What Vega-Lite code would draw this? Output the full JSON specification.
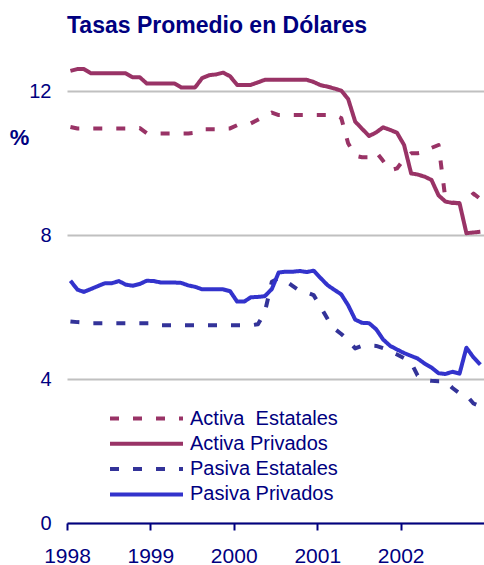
{
  "$schema": "https://vega.github.io/schema/vega-lite/v6.json",
  "width": 417,
  "height": 468,
  "autosize": {"type": "none"},
  "padding": {"left": 67, "top": 55, "right": 0, "bottom": 42},
  "background": "white",
  "config": {
    "view": {"stroke": null},
    "font": "Liberation Sans",
    "legend": {
      "orient": "none",
      "legendX": 41,
      "legendY": 352,
      "padding": 0,
      "symbolType": "stroke",
      "symbolSize": 5329,
      "symbolStrokeWidth": 4,
      "clipHeight": 23,
      "rowPadding": 2.3,
      "labelOffset": 5,
      "labelFont": "Liberation Sans",
      "labelFontSize": 20,
      "labelColor": "#000080",
      "labelLimit": 400
    }
  },
  "title": {
    "text": "Tasas Promedio en Dólares",
    "anchor": "start",
    "frame": "group",
    "font": "Liberation Sans",
    "fontSize": 23,
    "fontWeight": "bold",
    "color": "#000080",
    "baseline": "alphabetic",
    "offset": -1
  },
  "data": {
    "values": [
      {"fecha": "1998-01-16", "serie": "Activa\u00a0 Estatales", "tasa": 11.0},
      {"fecha": "1998-02-16", "serie": "Activa\u00a0 Estatales", "tasa": 10.96},
      {"fecha": "1998-03-16", "serie": "Activa\u00a0 Estatales", "tasa": 10.96},
      {"fecha": "1998-04-16", "serie": "Activa\u00a0 Estatales", "tasa": 10.96},
      {"fecha": "1998-05-16", "serie": "Activa\u00a0 Estatales", "tasa": 10.96},
      {"fecha": "1998-06-16", "serie": "Activa\u00a0 Estatales", "tasa": 10.96},
      {"fecha": "1998-07-16", "serie": "Activa\u00a0 Estatales", "tasa": 10.96},
      {"fecha": "1998-08-16", "serie": "Activa\u00a0 Estatales", "tasa": 10.96},
      {"fecha": "1998-09-16", "serie": "Activa\u00a0 Estatales", "tasa": 10.96},
      {"fecha": "1998-10-16", "serie": "Activa\u00a0 Estatales", "tasa": 10.97},
      {"fecha": "1998-11-16", "serie": "Activa\u00a0 Estatales", "tasa": 10.97},
      {"fecha": "1998-12-16", "serie": "Activa\u00a0 Estatales", "tasa": 10.83},
      {"fecha": "1999-01-16", "serie": "Activa\u00a0 Estatales", "tasa": 10.82},
      {"fecha": "1999-02-16", "serie": "Activa\u00a0 Estatales", "tasa": 10.82},
      {"fecha": "1999-03-16", "serie": "Activa\u00a0 Estatales", "tasa": 10.82},
      {"fecha": "1999-04-16", "serie": "Activa\u00a0 Estatales", "tasa": 10.82},
      {"fecha": "1999-05-16", "serie": "Activa\u00a0 Estatales", "tasa": 10.82},
      {"fecha": "1999-06-16", "serie": "Activa\u00a0 Estatales", "tasa": 10.82},
      {"fecha": "1999-07-16", "serie": "Activa\u00a0 Estatales", "tasa": 10.84},
      {"fecha": "1999-08-16", "serie": "Activa\u00a0 Estatales", "tasa": 10.94},
      {"fecha": "1999-09-16", "serie": "Activa\u00a0 Estatales", "tasa": 10.94},
      {"fecha": "1999-10-16", "serie": "Activa\u00a0 Estatales", "tasa": 10.94},
      {"fecha": "1999-11-16", "serie": "Activa\u00a0 Estatales", "tasa": 10.95},
      {"fecha": "1999-12-16", "serie": "Activa\u00a0 Estatales", "tasa": 10.96},
      {"fecha": "2000-01-16", "serie": "Activa\u00a0 Estatales", "tasa": 11.05},
      {"fecha": "2000-02-16", "serie": "Activa\u00a0 Estatales", "tasa": 11.07},
      {"fecha": "2000-03-16", "serie": "Activa\u00a0 Estatales", "tasa": 11.1},
      {"fecha": "2000-04-16", "serie": "Activa\u00a0 Estatales", "tasa": 11.2},
      {"fecha": "2000-05-16", "serie": "Activa\u00a0 Estatales", "tasa": 11.3},
      {"fecha": "2000-06-16", "serie": "Activa\u00a0 Estatales", "tasa": 11.4},
      {"fecha": "2000-07-16", "serie": "Activa\u00a0 Estatales", "tasa": 11.33},
      {"fecha": "2000-08-16", "serie": "Activa\u00a0 Estatales", "tasa": 11.33},
      {"fecha": "2000-09-16", "serie": "Activa\u00a0 Estatales", "tasa": 11.33},
      {"fecha": "2000-10-16", "serie": "Activa\u00a0 Estatales", "tasa": 11.33},
      {"fecha": "2000-11-16", "serie": "Activa\u00a0 Estatales", "tasa": 11.33},
      {"fecha": "2000-12-16", "serie": "Activa\u00a0 Estatales", "tasa": 11.33},
      {"fecha": "2001-01-16", "serie": "Activa\u00a0 Estatales", "tasa": 11.33},
      {"fecha": "2001-02-16", "serie": "Activa\u00a0 Estatales", "tasa": 11.33},
      {"fecha": "2001-03-16", "serie": "Activa\u00a0 Estatales", "tasa": 11.33},
      {"fecha": "2001-04-16", "serie": "Activa\u00a0 Estatales", "tasa": 11.25},
      {"fecha": "2001-05-16", "serie": "Activa\u00a0 Estatales", "tasa": 10.55},
      {"fecha": "2001-06-16", "serie": "Activa\u00a0 Estatales", "tasa": 10.2},
      {"fecha": "2001-07-16", "serie": "Activa\u00a0 Estatales", "tasa": 10.16},
      {"fecha": "2001-08-16", "serie": "Activa\u00a0 Estatales", "tasa": 10.16},
      {"fecha": "2001-09-16", "serie": "Activa\u00a0 Estatales", "tasa": 10.3},
      {"fecha": "2001-10-16", "serie": "Activa\u00a0 Estatales", "tasa": 10.06},
      {"fecha": "2001-11-16", "serie": "Activa\u00a0 Estatales", "tasa": 9.8},
      {"fecha": "2001-12-16", "serie": "Activa\u00a0 Estatales", "tasa": 9.85},
      {"fecha": "2002-01-16", "serie": "Activa\u00a0 Estatales", "tasa": 10.1},
      {"fecha": "2002-02-16", "serie": "Activa\u00a0 Estatales", "tasa": 10.27},
      {"fecha": "2002-03-16", "serie": "Activa\u00a0 Estatales", "tasa": 10.27},
      {"fecha": "2002-04-16", "serie": "Activa\u00a0 Estatales", "tasa": 10.3},
      {"fecha": "2002-05-16", "serie": "Activa\u00a0 Estatales", "tasa": 10.42},
      {"fecha": "2002-06-16", "serie": "Activa\u00a0 Estatales", "tasa": 10.5},
      {"fecha": "2002-07-16", "serie": "Activa\u00a0 Estatales", "tasa": 9.0},
      {"fecha": "2002-08-16", "serie": "Activa\u00a0 Estatales", "tasa": 8.9},
      {"fecha": "2002-09-16", "serie": "Activa\u00a0 Estatales", "tasa": 8.88},
      {"fecha": "2002-10-16", "serie": "Activa\u00a0 Estatales", "tasa": 8.95},
      {"fecha": "2002-11-16", "serie": "Activa\u00a0 Estatales", "tasa": 9.15},
      {"fecha": "2002-12-16", "serie": "Activa\u00a0 Estatales", "tasa": 9.0},

      {"fecha": "1998-01-16", "serie": "Activa Privados", "tasa": 12.56},
      {"fecha": "1998-02-16", "serie": "Activa Privados", "tasa": 12.61},
      {"fecha": "1998-03-16", "serie": "Activa Privados", "tasa": 12.61},
      {"fecha": "1998-04-16", "serie": "Activa Privados", "tasa": 12.49},
      {"fecha": "1998-05-16", "serie": "Activa Privados", "tasa": 12.49},
      {"fecha": "1998-06-16", "serie": "Activa Privados", "tasa": 12.49},
      {"fecha": "1998-07-16", "serie": "Activa Privados", "tasa": 12.49},
      {"fecha": "1998-08-16", "serie": "Activa Privados", "tasa": 12.49},
      {"fecha": "1998-09-16", "serie": "Activa Privados", "tasa": 12.49},
      {"fecha": "1998-10-16", "serie": "Activa Privados", "tasa": 12.38},
      {"fecha": "1998-11-16", "serie": "Activa Privados", "tasa": 12.38},
      {"fecha": "1998-12-16", "serie": "Activa Privados", "tasa": 12.21},
      {"fecha": "1999-01-16", "serie": "Activa Privados", "tasa": 12.21},
      {"fecha": "1999-02-16", "serie": "Activa Privados", "tasa": 12.21},
      {"fecha": "1999-03-16", "serie": "Activa Privados", "tasa": 12.21},
      {"fecha": "1999-04-16", "serie": "Activa Privados", "tasa": 12.21},
      {"fecha": "1999-05-16", "serie": "Activa Privados", "tasa": 12.1},
      {"fecha": "1999-06-16", "serie": "Activa Privados", "tasa": 12.1},
      {"fecha": "1999-07-16", "serie": "Activa Privados", "tasa": 12.1},
      {"fecha": "1999-08-16", "serie": "Activa Privados", "tasa": 12.36},
      {"fecha": "1999-09-16", "serie": "Activa Privados", "tasa": 12.44},
      {"fecha": "1999-10-16", "serie": "Activa Privados", "tasa": 12.46},
      {"fecha": "1999-11-16", "serie": "Activa Privados", "tasa": 12.51},
      {"fecha": "1999-12-16", "serie": "Activa Privados", "tasa": 12.41},
      {"fecha": "2000-01-16", "serie": "Activa Privados", "tasa": 12.17},
      {"fecha": "2000-02-16", "serie": "Activa Privados", "tasa": 12.17},
      {"fecha": "2000-03-16", "serie": "Activa Privados", "tasa": 12.17},
      {"fecha": "2000-04-16", "serie": "Activa Privados", "tasa": 12.24},
      {"fecha": "2000-05-16", "serie": "Activa Privados", "tasa": 12.31},
      {"fecha": "2000-06-16", "serie": "Activa Privados", "tasa": 12.31},
      {"fecha": "2000-07-16", "serie": "Activa Privados", "tasa": 12.31},
      {"fecha": "2000-08-16", "serie": "Activa Privados", "tasa": 12.31},
      {"fecha": "2000-09-16", "serie": "Activa Privados", "tasa": 12.31},
      {"fecha": "2000-10-16", "serie": "Activa Privados", "tasa": 12.31},
      {"fecha": "2000-11-16", "serie": "Activa Privados", "tasa": 12.31},
      {"fecha": "2000-12-16", "serie": "Activa Privados", "tasa": 12.25},
      {"fecha": "2001-01-16", "serie": "Activa Privados", "tasa": 12.16},
      {"fecha": "2001-02-16", "serie": "Activa Privados", "tasa": 12.12},
      {"fecha": "2001-03-16", "serie": "Activa Privados", "tasa": 12.07},
      {"fecha": "2001-04-16", "serie": "Activa Privados", "tasa": 12.01},
      {"fecha": "2001-05-16", "serie": "Activa Privados", "tasa": 11.78},
      {"fecha": "2001-06-16", "serie": "Activa Privados", "tasa": 11.15},
      {"fecha": "2001-07-16", "serie": "Activa Privados", "tasa": 10.95},
      {"fecha": "2001-08-16", "serie": "Activa Privados", "tasa": 10.75},
      {"fecha": "2001-09-16", "serie": "Activa Privados", "tasa": 10.85},
      {"fecha": "2001-10-16", "serie": "Activa Privados", "tasa": 10.99},
      {"fecha": "2001-11-16", "serie": "Activa Privados", "tasa": 10.92},
      {"fecha": "2001-12-16", "serie": "Activa Privados", "tasa": 10.84},
      {"fecha": "2002-01-16", "serie": "Activa Privados", "tasa": 10.5},
      {"fecha": "2002-02-16", "serie": "Activa Privados", "tasa": 9.71},
      {"fecha": "2002-03-16", "serie": "Activa Privados", "tasa": 9.68},
      {"fecha": "2002-04-16", "serie": "Activa Privados", "tasa": 9.62},
      {"fecha": "2002-05-16", "serie": "Activa Privados", "tasa": 9.53},
      {"fecha": "2002-06-16", "serie": "Activa Privados", "tasa": 9.1},
      {"fecha": "2002-07-16", "serie": "Activa Privados", "tasa": 8.93},
      {"fecha": "2002-08-16", "serie": "Activa Privados", "tasa": 8.89},
      {"fecha": "2002-09-16", "serie": "Activa Privados", "tasa": 8.88},
      {"fecha": "2002-10-16", "serie": "Activa Privados", "tasa": 8.05},
      {"fecha": "2002-11-16", "serie": "Activa Privados", "tasa": 8.07},
      {"fecha": "2002-12-16", "serie": "Activa Privados", "tasa": 8.09},

      {"fecha": "1998-01-16", "serie": "Pasiva Estatales", "tasa": 5.6},
      {"fecha": "1998-02-16", "serie": "Pasiva Estatales", "tasa": 5.58},
      {"fecha": "1998-03-16", "serie": "Pasiva Estatales", "tasa": 5.57},
      {"fecha": "1998-04-16", "serie": "Pasiva Estatales", "tasa": 5.55},
      {"fecha": "1998-05-16", "serie": "Pasiva Estatales", "tasa": 5.55},
      {"fecha": "1998-06-16", "serie": "Pasiva Estatales", "tasa": 5.55},
      {"fecha": "1998-07-16", "serie": "Pasiva Estatales", "tasa": 5.55},
      {"fecha": "1998-08-16", "serie": "Pasiva Estatales", "tasa": 5.55},
      {"fecha": "1998-09-16", "serie": "Pasiva Estatales", "tasa": 5.55},
      {"fecha": "1998-10-16", "serie": "Pasiva Estatales", "tasa": 5.55},
      {"fecha": "1998-11-16", "serie": "Pasiva Estatales", "tasa": 5.55},
      {"fecha": "1998-12-16", "serie": "Pasiva Estatales", "tasa": 5.55},
      {"fecha": "1999-01-16", "serie": "Pasiva Estatales", "tasa": 5.55},
      {"fecha": "1999-02-16", "serie": "Pasiva Estatales", "tasa": 5.49},
      {"fecha": "1999-03-16", "serie": "Pasiva Estatales", "tasa": 5.49},
      {"fecha": "1999-04-16", "serie": "Pasiva Estatales", "tasa": 5.49},
      {"fecha": "1999-05-16", "serie": "Pasiva Estatales", "tasa": 5.49},
      {"fecha": "1999-06-16", "serie": "Pasiva Estatales", "tasa": 5.49},
      {"fecha": "1999-07-16", "serie": "Pasiva Estatales", "tasa": 5.49},
      {"fecha": "1999-08-16", "serie": "Pasiva Estatales", "tasa": 5.49},
      {"fecha": "1999-09-16", "serie": "Pasiva Estatales", "tasa": 5.49},
      {"fecha": "1999-10-16", "serie": "Pasiva Estatales", "tasa": 5.49},
      {"fecha": "1999-11-16", "serie": "Pasiva Estatales", "tasa": 5.49},
      {"fecha": "1999-12-16", "serie": "Pasiva Estatales", "tasa": 5.49},
      {"fecha": "2000-01-16", "serie": "Pasiva Estatales", "tasa": 5.49},
      {"fecha": "2000-02-16", "serie": "Pasiva Estatales", "tasa": 5.49},
      {"fecha": "2000-03-16", "serie": "Pasiva Estatales", "tasa": 5.49},
      {"fecha": "2000-04-16", "serie": "Pasiva Estatales", "tasa": 5.52},
      {"fecha": "2000-05-16", "serie": "Pasiva Estatales", "tasa": 5.85},
      {"fecha": "2000-06-16", "serie": "Pasiva Estatales", "tasa": 6.7},
      {"fecha": "2000-07-16", "serie": "Pasiva Estatales", "tasa": 6.8},
      {"fecha": "2000-08-16", "serie": "Pasiva Estatales", "tasa": 6.72},
      {"fecha": "2000-09-16", "serie": "Pasiva Estatales", "tasa": 6.58},
      {"fecha": "2000-10-16", "serie": "Pasiva Estatales", "tasa": 6.45},
      {"fecha": "2000-11-16", "serie": "Pasiva Estatales", "tasa": 6.4},
      {"fecha": "2000-12-16", "serie": "Pasiva Estatales", "tasa": 6.33},
      {"fecha": "2001-01-16", "serie": "Pasiva Estatales", "tasa": 6.0},
      {"fecha": "2001-02-16", "serie": "Pasiva Estatales", "tasa": 5.66},
      {"fecha": "2001-03-16", "serie": "Pasiva Estatales", "tasa": 5.4},
      {"fecha": "2001-04-16", "serie": "Pasiva Estatales", "tasa": 5.25},
      {"fecha": "2001-05-16", "serie": "Pasiva Estatales", "tasa": 5.08},
      {"fecha": "2001-06-16", "serie": "Pasiva Estatales", "tasa": 4.85},
      {"fecha": "2001-07-16", "serie": "Pasiva Estatales", "tasa": 4.92},
      {"fecha": "2001-08-16", "serie": "Pasiva Estatales", "tasa": 4.93},
      {"fecha": "2001-09-16", "serie": "Pasiva Estatales", "tasa": 4.92},
      {"fecha": "2001-10-16", "serie": "Pasiva Estatales", "tasa": 4.86},
      {"fecha": "2001-11-16", "serie": "Pasiva Estatales", "tasa": 4.77},
      {"fecha": "2001-12-16", "serie": "Pasiva Estatales", "tasa": 4.68},
      {"fecha": "2002-01-16", "serie": "Pasiva Estatales", "tasa": 4.58},
      {"fecha": "2002-02-16", "serie": "Pasiva Estatales", "tasa": 4.45},
      {"fecha": "2002-03-16", "serie": "Pasiva Estatales", "tasa": 4.1},
      {"fecha": "2002-04-16", "serie": "Pasiva Estatales", "tasa": 3.97},
      {"fecha": "2002-05-16", "serie": "Pasiva Estatales", "tasa": 3.95},
      {"fecha": "2002-06-16", "serie": "Pasiva Estatales", "tasa": 3.94},
      {"fecha": "2002-07-16", "serie": "Pasiva Estatales", "tasa": 3.94},
      {"fecha": "2002-08-16", "serie": "Pasiva Estatales", "tasa": 3.75},
      {"fecha": "2002-09-16", "serie": "Pasiva Estatales", "tasa": 3.6},
      {"fecha": "2002-10-16", "serie": "Pasiva Estatales", "tasa": 3.55},
      {"fecha": "2002-11-16", "serie": "Pasiva Estatales", "tasa": 3.32},
      {"fecha": "2002-12-16", "serie": "Pasiva Estatales", "tasa": 3.24},

      {"fecha": "1998-01-16", "serie": "Pasiva Privados", "tasa": 6.73},
      {"fecha": "1998-02-16", "serie": "Pasiva Privados", "tasa": 6.48},
      {"fecha": "1998-03-16", "serie": "Pasiva Privados", "tasa": 6.42},
      {"fecha": "1998-04-16", "serie": "Pasiva Privados", "tasa": 6.5},
      {"fecha": "1998-05-16", "serie": "Pasiva Privados", "tasa": 6.58},
      {"fecha": "1998-06-16", "serie": "Pasiva Privados", "tasa": 6.66},
      {"fecha": "1998-07-16", "serie": "Pasiva Privados", "tasa": 6.66},
      {"fecha": "1998-08-16", "serie": "Pasiva Privados", "tasa": 6.72},
      {"fecha": "1998-09-16", "serie": "Pasiva Privados", "tasa": 6.62},
      {"fecha": "1998-10-16", "serie": "Pasiva Privados", "tasa": 6.59},
      {"fecha": "1998-11-16", "serie": "Pasiva Privados", "tasa": 6.64},
      {"fecha": "1998-12-16", "serie": "Pasiva Privados", "tasa": 6.73},
      {"fecha": "1999-01-16", "serie": "Pasiva Privados", "tasa": 6.72},
      {"fecha": "1999-02-16", "serie": "Pasiva Privados", "tasa": 6.68},
      {"fecha": "1999-03-16", "serie": "Pasiva Privados", "tasa": 6.68},
      {"fecha": "1999-04-16", "serie": "Pasiva Privados", "tasa": 6.68},
      {"fecha": "1999-05-16", "serie": "Pasiva Privados", "tasa": 6.67},
      {"fecha": "1999-06-16", "serie": "Pasiva Privados", "tasa": 6.6},
      {"fecha": "1999-07-16", "serie": "Pasiva Privados", "tasa": 6.56},
      {"fecha": "1999-08-16", "serie": "Pasiva Privados", "tasa": 6.49},
      {"fecha": "1999-09-16", "serie": "Pasiva Privados", "tasa": 6.49},
      {"fecha": "1999-10-16", "serie": "Pasiva Privados", "tasa": 6.49},
      {"fecha": "1999-11-16", "serie": "Pasiva Privados", "tasa": 6.49},
      {"fecha": "1999-12-16", "serie": "Pasiva Privados", "tasa": 6.44},
      {"fecha": "2000-01-16", "serie": "Pasiva Privados", "tasa": 6.15},
      {"fecha": "2000-02-16", "serie": "Pasiva Privados", "tasa": 6.15},
      {"fecha": "2000-03-16", "serie": "Pasiva Privados", "tasa": 6.27},
      {"fecha": "2000-04-16", "serie": "Pasiva Privados", "tasa": 6.28},
      {"fecha": "2000-05-16", "serie": "Pasiva Privados", "tasa": 6.3},
      {"fecha": "2000-06-16", "serie": "Pasiva Privados", "tasa": 6.5},
      {"fecha": "2000-07-16", "serie": "Pasiva Privados", "tasa": 6.96},
      {"fecha": "2000-08-16", "serie": "Pasiva Privados", "tasa": 6.98},
      {"fecha": "2000-09-16", "serie": "Pasiva Privados", "tasa": 6.98},
      {"fecha": "2000-10-16", "serie": "Pasiva Privados", "tasa": 7.0},
      {"fecha": "2000-11-16", "serie": "Pasiva Privados", "tasa": 6.97},
      {"fecha": "2000-12-16", "serie": "Pasiva Privados", "tasa": 7.01},
      {"fecha": "2001-01-16", "serie": "Pasiva Privados", "tasa": 6.8},
      {"fecha": "2001-02-16", "serie": "Pasiva Privados", "tasa": 6.6},
      {"fecha": "2001-03-16", "serie": "Pasiva Privados", "tasa": 6.48},
      {"fecha": "2001-04-16", "serie": "Pasiva Privados", "tasa": 6.35},
      {"fecha": "2001-05-16", "serie": "Pasiva Privados", "tasa": 6.05},
      {"fecha": "2001-06-16", "serie": "Pasiva Privados", "tasa": 5.65},
      {"fecha": "2001-07-16", "serie": "Pasiva Privados", "tasa": 5.56},
      {"fecha": "2001-08-16", "serie": "Pasiva Privados", "tasa": 5.55},
      {"fecha": "2001-09-16", "serie": "Pasiva Privados", "tasa": 5.38},
      {"fecha": "2001-10-16", "serie": "Pasiva Privados", "tasa": 5.1},
      {"fecha": "2001-11-16", "serie": "Pasiva Privados", "tasa": 4.92},
      {"fecha": "2001-12-16", "serie": "Pasiva Privados", "tasa": 4.82},
      {"fecha": "2002-01-16", "serie": "Pasiva Privados", "tasa": 4.72},
      {"fecha": "2002-02-16", "serie": "Pasiva Privados", "tasa": 4.64},
      {"fecha": "2002-03-16", "serie": "Pasiva Privados", "tasa": 4.57},
      {"fecha": "2002-04-16", "serie": "Pasiva Privados", "tasa": 4.43},
      {"fecha": "2002-05-16", "serie": "Pasiva Privados", "tasa": 4.32},
      {"fecha": "2002-06-16", "serie": "Pasiva Privados", "tasa": 4.16},
      {"fecha": "2002-07-16", "serie": "Pasiva Privados", "tasa": 4.14},
      {"fecha": "2002-08-16", "serie": "Pasiva Privados", "tasa": 4.2},
      {"fecha": "2002-09-16", "serie": "Pasiva Privados", "tasa": 4.15},
      {"fecha": "2002-10-16", "serie": "Pasiva Privados", "tasa": 4.87},
      {"fecha": "2002-11-16", "serie": "Pasiva Privados", "tasa": 4.6},
      {"fecha": "2002-12-16", "serie": "Pasiva Privados", "tasa": 4.4}
    ]
  },
  "mark": {"type": "line", "strokeWidth": 4, "strokeCap": "butt", "strokeJoin": "round"},
  "encoding": {
    "x": {
      "field": "fecha",
      "type": "temporal",
      "scale": {
        "type": "utc",
        "domain": [
          {"year": 1998, "month": 1, "date": 1, "utc": true},
          {"year": 2003, "month": 1, "date": 1, "utc": true}
        ]
      },
      "axis": {
        "title": null,
        "values": [
          {"year": 1998, "month": 1, "date": 1, "utc": true},
          {"year": 1999, "month": 1, "date": 1, "utc": true},
          {"year": 2000, "month": 1, "date": 1, "utc": true},
          {"year": 2001, "month": 1, "date": 1, "utc": true},
          {"year": 2002, "month": 1, "date": 1, "utc": true}
        ],
        "format": "%Y",
        "grid": false,
        "labelFlush": false,
        "domainColor": "#000080",
        "domainWidth": 2,
        "tickColor": "#000080",
        "tickWidth": 2,
        "tickSize": 7,
        "labelFont": "Liberation Sans",
        "labelFontSize": 21,
        "labelColor": "#000080",
        "labelPadding": 15,
        "zindex": 1
      }
    },
    "y": {
      "field": "tasa",
      "type": "quantitative",
      "scale": {"domain": [0, 13], "nice": false, "zero": true},
      "axis": {
        "values": [0, 4, 8, 12],
        "grid": true,
        "gridColor": "#c0c0c0",
        "gridWidth": 2,
        "domain": false,
        "ticks": false,
        "labelFont": "Liberation Sans",
        "labelFontSize": 20,
        "labelColor": "#000080",
        "labelPadding": 16,
        "title": "%",
        "titleAngle": 0,
        "titleX": -48,
        "titleY": 82,
        "titleAlign": "center",
        "titleBaseline": "middle",
        "titleFont": "Liberation Sans",
        "titleFontSize": 22,
        "titleFontWeight": "bold",
        "titleColor": "#000080"
      }
    },
    "color": {
      "field": "serie",
      "type": "nominal",
      "scale": {
        "domain": ["Activa\u00a0 Estatales", "Activa Privados", "Pasiva Estatales", "Pasiva Privados"],
        "range": ["#993366", "#993366", "#333399", "#3333cc"]
      },
      "legend": {
        "title": null,
        "encode": {
          "symbols": {
            "update": {
              "strokeDash": {"signal": "indexof(datum.value, 'Estatales') >= 0 ? [12, 11] : [1, 0]"}
            }
          }
        }
      }
    },
    "strokeDash": {
      "field": "serie",
      "type": "nominal",
      "scale": {
        "domain": ["Activa\u00a0 Estatales", "Activa Privados", "Pasiva Estatales", "Pasiva Privados"],
        "range": [[9, 14], [1, 0], [9, 14], [1, 0]]
      },
      "legend": {
        "title": null,
        "encode": {
          "symbols": {
            "update": {
              "strokeDash": {"signal": "indexof(datum.value, 'Estatales') >= 0 ? [12, 11] : [1, 0]"}
            }
          }
        }
      }
    }
  }
}
